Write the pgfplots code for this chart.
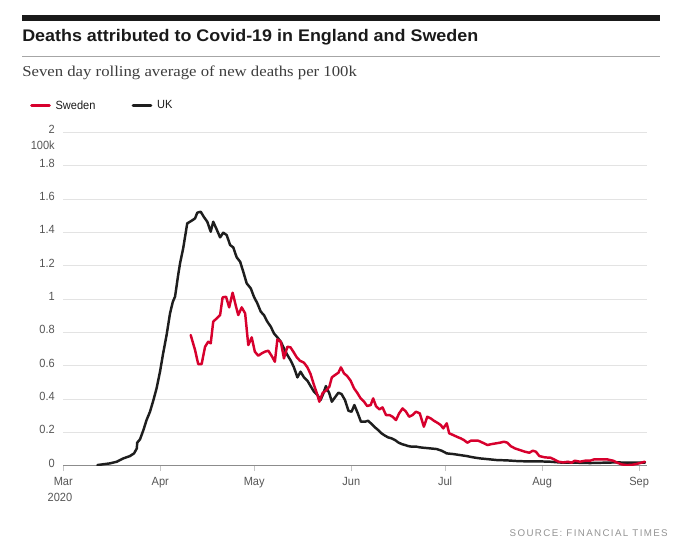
\documentclass[border=0pt]{standalone}
\usepackage{pgfplots}
\pgfplotsset{compat=1.18}
\usepackage{graphicx}
\usepackage{fontspec}
\setmainfont{Liberation Sans}
\newfontfamily\subfont{Liberation Serif}
\newfontfamily\condfont[FakeStretch=0.93]{Liberation Sans}
\newfontfamily\srcfont[LetterSpace=14]{Liberation Sans}
\definecolor{swered}{HTML}{D7002D}
\definecolor{ukblack}{HTML}{1E1E1E}
\definecolor{gridgray}{HTML}{E3E3E3}
\definecolor{tickgray}{HTML}{555555}
\definecolor{axisgray}{HTML}{8C8C8C}
\definecolor{titleblack}{HTML}{1A1A1A}
\definecolor{subgray}{HTML}{3C3C3C}
\begin{document}
\begin{tikzpicture}
\path[use as bounding box] (0pt,0pt) rectangle (510pt,-418.5pt);
% header
\fill[titleblack] (16.5pt,-11.25pt) rectangle (495pt,-15.75pt);
\node[anchor=base west, inner sep=0pt, text=titleblack] at (16.5pt,-30.75pt)
  {\resizebox{342pt}{\height}{\fontsize{12.6}{15}\selectfont\bfseries Deaths attributed to Covid-19 in England and Sweden}};
\draw[color=gray!70, line width=1.1pt] (16.5pt,-42.5pt) -- (495pt,-42.5pt);
\node[anchor=base west, inner sep=0pt, text=subgray] at (16.5pt,-57.5pt)
  {\resizebox{251pt}{\height}{\subfont\fontsize{11.3}{14}\selectfont Seven day rolling average of new deaths per 100k}};
% unit label
\node[anchor=east, inner sep=0pt, text=tickgray, font=\condfont\fontsize{8.9}{10}\selectfont] at (41.25pt,-108.75pt) {100k};
% year under first month label
\node[anchor=base, inner sep=0pt, text=tickgray, font=\condfont\fontsize{8.9}{10}\selectfont] at (45pt,-376.3pt) {2020};
% source
\node[anchor=base east, inner sep=0pt, text=gray!85] at (501pt,-402pt)
  {\resizebox{118.5pt}{\height}{\srcfont\fontsize{7.3}{9}\selectfont SOURCE: FINANCIAL TIMES}};
\begin{axis}[
  at={(47.475pt,-349.275pt)}, anchor=south west,
  scale only axis, width=437.775pt, height=250pt,
  xmin=0, xmax=186.5, ymin=0, ymax=2,
  axis x line*=bottom, axis y line*=left,
  y axis line style={draw=none},
  x axis line style={draw=axisgray, line width=0.8pt},
  ytick={0,0.2,0.4,0.6,0.8,1,1.2,1.4,1.6,1.8,2},
  yticklabels={0,0.2,0.4,0.6,0.8,1,1.2,1.4,1.6,1.8,2},
  xtick={0,31,61,92,122,153,184},
  xticklabels={Mar,Apr,May,Jun,Jul,Aug,Sep},
  ytick style={draw=none},
  xtick style={draw=gray!45, line width=0.7pt},
  tick align=outside, major tick length=4pt,
  ymajorgrids, grid style={draw=gridgray, line width=0.75pt},
  yticklabel style={font=\condfont\fontsize{8.9}{10}\selectfont, text=tickgray, anchor=east, inner sep=0pt, xshift=-2.2pt, yshift=2pt},
  xticklabel style={font=\condfont\fontsize{8.9}{10}\selectfont, text=tickgray, anchor=base, inner sep=0pt, yshift=-11pt},
  legend style={at={(-0.057,1.080)}, anchor=west, draw=none, fill=none, inner sep=0pt, outer sep=0pt,
    font=\condfont\fontsize{8.9}{10}\selectfont, text=titleblack,
    nodes={inner sep=0pt, anchor=west},
    /tikz/every odd column/.append style={column sep=3.5pt},
    /tikz/every even column/.append style={column sep=27pt}},
  legend columns=2,
  legend image code/.code={\draw[#1, line width=2.4pt] (0pt,0pt) -- (13.3pt,0pt);},
  every axis plot/.append style={line join=round, line cap=round},
]
\addlegendimage{color=swered}
\addlegendentry{Sweden}
\addlegendimage{color=ukblack}
\addlegendentry{UK}
\addplot[color=ukblack, line width=1.85pt, forget plot] coordinates {
(10.9,0.004)(14.9,0.014)(17.1,0.024)(19.2,0.044)(21.3,0.058)(22.6,0.074)(23.5,0.104)(23.6,0.138)(24.5,0.158)(25.6,0.214)(26.6,0.274)(27.7,0.324)(28.8,0.394)(29.8,0.464)(30.9,0.564)(31.9,0.674)(33.0,0.784)(34.1,0.914)(35.0,0.984)(35.7,1.014)(36.7,1.144)(37.3,1.214)(38.3,1.304)(39.6,1.454)(41.0,1.47)(42.1,1.484)(42.8,1.518)(43.9,1.524)(45.0,1.49)(46.0,1.464)(47.1,1.404)(47.9,1.464)(49.0,1.418)(50.1,1.37)(51.1,1.398)(52.2,1.384)(53.3,1.324)(54.3,1.31)(55.4,1.25)(56.5,1.224)(57.5,1.164)(58.6,1.094)(59.9,1.064)(60.9,1.014)(62.0,0.974)(63.1,0.924)(64.1,0.904)(65.2,0.864)(66.3,0.834)(67.3,0.794)(68.4,0.77)(69.5,0.744)(70.5,0.704)(71.6,0.664)(72.7,0.630)(73.7,0.59)(74.8,0.53)(75.8,0.564)(76.9,0.53)(78.0,0.51)(79.0,0.478)(80.1,0.444)(81.2,0.424)(82.2,0.394)(83.1,0.434)(83.9,0.478)(85.0,0.434)(85.8,0.384)(86.8,0.41)(87.9,0.438)(88.9,0.43)(90.0,0.394)(91.1,0.33)(92.1,0.324)(93.0,0.364)(94.1,0.314)(95.1,0.264)(96.4,0.264)(97.4,0.27)(98.5,0.25)(99.6,0.23)(100.6,0.214)(101.7,0.194)(102.8,0.18)(103.8,0.17)(104.9,0.164)(106.0,0.154)(107.0,0.14)(108.1,0.13)(109.2,0.124)(110.2,0.118)(111.3,0.114)(112.9,0.114)(114.0,0.11)(115.0,0.108)(117.2,0.104)(119.3,0.10)(120.9,0.09)(122.5,0.074)(124.6,0.07)(126.7,0.064)(128.9,0.058)(131.0,0.05)(133.1,0.044)(135.3,0.04)(138.5,0.034)(141.7,0.032)(144.9,0.028)(148.1,0.026)(152.3,0.026)(155.5,0.024)(159.7,0.018)(164.0,0.018)(168.3,0.016)(172.5,0.018)(176.8,0.02)(181.1,0.018)(185.8,0.018)
};
\addplot[color=swered, line width=1.85pt, forget plot] coordinates {
(40.7,0.784)(42.1,0.694)(43.1,0.61)(44.2,0.61)(45.3,0.714)(46.3,0.744)(47.1,0.734)(47.9,0.864)(49.0,0.884)(50.1,0.904)(50.9,1.01)(52.0,1.014)(53.0,0.95)(54.1,1.038)(55.2,0.954)(55.9,0.904)(57.0,0.95)(58.1,0.914)(59.1,0.724)(60.2,0.77)(61.2,0.684)(62.3,0.66)(63.4,0.674)(64.4,0.684)(65.5,0.69)(66.6,0.658)(67.6,0.624)(68.4,0.758)(69.5,0.744)(70.5,0.644)(71.6,0.714)(72.6,0.71)(73.5,0.684)(74.6,0.65)(75.6,0.63)(76.9,0.618)(78.0,0.59)(79.0,0.55)(80.1,0.484)(81.2,0.424)(81.8,0.384)(82.9,0.438)(83.9,0.45)(85.0,0.474)(85.8,0.53)(86.8,0.544)(87.9,0.558)(88.7,0.59)(89.7,0.554)(90.7,0.538)(91.8,0.51)(92.9,0.464)(93.9,0.438)(95.0,0.404)(96.1,0.384)(97.1,0.358)(98.2,0.364)(99.0,0.404)(99.9,0.358)(101.0,0.338)(102.0,0.35)(103.1,0.304)(104.2,0.304)(105.2,0.294)(106.3,0.274)(107.3,0.314)(108.4,0.344)(109.5,0.324)(110.5,0.294)(111.6,0.304)(112.7,0.324)(113.9,0.314)(115.2,0.234)(116.3,0.294)(117.4,0.284)(118.4,0.27)(119.5,0.258)(120.6,0.244)(121.4,0.224)(122.5,0.254)(123.3,0.194)(124.6,0.184)(125.7,0.174)(127.0,0.164)(128.0,0.154)(129.1,0.138)(130.2,0.15)(131.5,0.15)(132.6,0.15)(134.0,0.138)(135.5,0.124)(136.9,0.13)(138.2,0.134)(139.5,0.138)(140.8,0.144)(141.9,0.138)(142.9,0.118)(144.3,0.104)(145.9,0.094)(147.5,0.084)(148.9,0.078)(150.0,0.09)(151.0,0.084)(152.1,0.058)(153.9,0.05)(155.7,0.048)(156.8,0.038)(158.2,0.024)(159.7,0.02)(161.3,0.024)(162.4,0.018)(163.4,0.03)(165.1,0.024)(166.7,0.03)(168.3,0.03)(169.6,0.038)(171.7,0.038)(173.8,0.038)(175.7,0.03)(177.0,0.018)(178.4,0.008)(180.0,0.004)(181.6,0.005)(183.0,0.01)(184.3,0.016)(185.8,0.024)
};
\end{axis}
\end{tikzpicture}
\end{document}
